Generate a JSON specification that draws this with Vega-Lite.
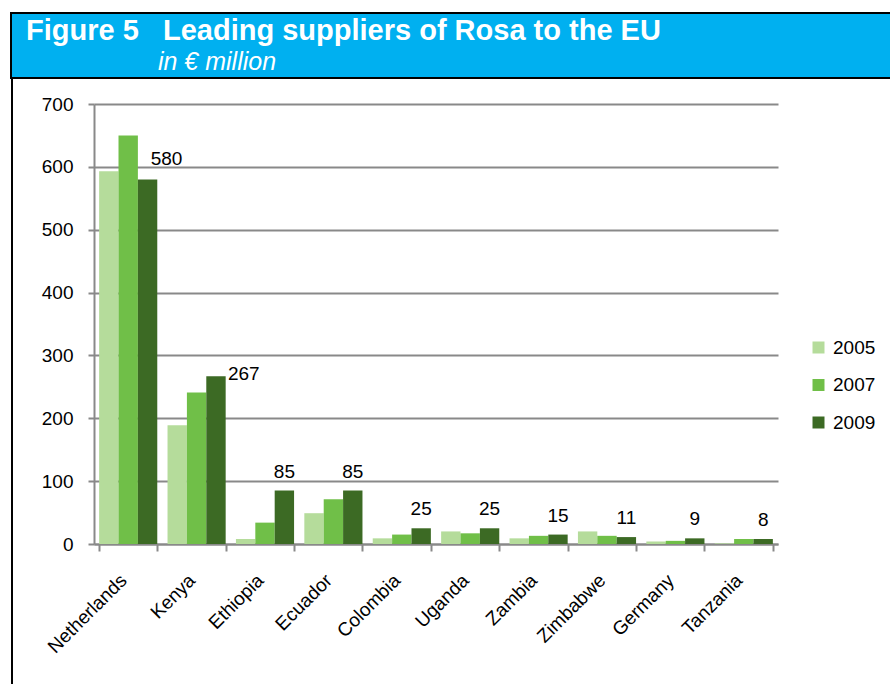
{
  "$schema": "https://vega.github.io/schema/vega-lite/v6.json",
  "padding": {"left": 10, "top": 12, "right": 0, "bottom": 0},
  "background": "white",
  "config": {"font": "Liberation Sans", "view": {"stroke": null}},
  "datasets": {
    "rosa": [
      {"Country": "Netherlands", "Year": "2005", "Value": 593},
      {"Country": "Netherlands", "Year": "2007", "Value": 650},
      {"Country": "Netherlands", "Year": "2009", "Value": 580},
      {"Country": "Kenya", "Year": "2005", "Value": 189},
      {"Country": "Kenya", "Year": "2007", "Value": 241},
      {"Country": "Kenya", "Year": "2009", "Value": 267},
      {"Country": "Ethiopia", "Year": "2005", "Value": 8},
      {"Country": "Ethiopia", "Year": "2007", "Value": 34},
      {"Country": "Ethiopia", "Year": "2009", "Value": 85},
      {"Country": "Ecuador", "Year": "2005", "Value": 49},
      {"Country": "Ecuador", "Year": "2007", "Value": 71},
      {"Country": "Ecuador", "Year": "2009", "Value": 85},
      {"Country": "Colombia", "Year": "2005", "Value": 9},
      {"Country": "Colombia", "Year": "2007", "Value": 15},
      {"Country": "Colombia", "Year": "2009", "Value": 25},
      {"Country": "Uganda", "Year": "2005", "Value": 20},
      {"Country": "Uganda", "Year": "2007", "Value": 17},
      {"Country": "Uganda", "Year": "2009", "Value": 25},
      {"Country": "Zambia", "Year": "2005", "Value": 9},
      {"Country": "Zambia", "Year": "2007", "Value": 13},
      {"Country": "Zambia", "Year": "2009", "Value": 15},
      {"Country": "Zimbabwe", "Year": "2005", "Value": 20},
      {"Country": "Zimbabwe", "Year": "2007", "Value": 13},
      {"Country": "Zimbabwe", "Year": "2009", "Value": 11},
      {"Country": "Germany", "Year": "2005", "Value": 4},
      {"Country": "Germany", "Year": "2007", "Value": 5},
      {"Country": "Germany", "Year": "2009", "Value": 9},
      {"Country": "Tanzania", "Year": "2005", "Value": 1},
      {"Country": "Tanzania", "Year": "2007", "Value": 8},
      {"Country": "Tanzania", "Year": "2009", "Value": 8}
    ]
  },
  "spacing": 0,
  "vconcat": [
    {
      "width": 890,
      "height": 65,
      "data": {"values": []},
      "mark": "point",
      "view": {"fill": "#00B0F0", "stroke": "black", "strokeWidth": 2},
      "title": {
        "text": "Figure 5\u00a0\u00a0\u00a0Leading suppliers of Rosa to the EU",
        "subtitle": "\u200b\u00a0\u00a0\u00a0\u00a0\u00a0\u00a0\u00a0\u00a0\u00a0\u00a0\u00a0\u00a0\u00a0\u00a0\u00a0\u00a0\u00a0\u00a0\u00a0in € million",
        "anchor": "start",
        "frame": "group",
        "orient": "top",
        "offset": -62,
        "dx": 15,
        "color": "white",
        "subtitleColor": "white",
        "font": "Liberation Sans",
        "fontSize": 29,
        "fontWeight": "bold",
        "subtitleFont": "Liberation Sans",
        "subtitleFontSize": 25,
        "subtitleFontStyle": "italic",
        "subtitleFontWeight": "normal",
        "subtitlePadding": 4
      }
    },
    {
      "spacing": 0,
      "hconcat": [
        {
          "width": 2,
          "height": 620,
          "data": {"values": []},
          "mark": "point",
          "view": {"fill": "black", "stroke": null}
        },
        {
          "spacing": 15,
          "vconcat": [
            {
              "width": 684,
              "height": 1,
              "data": {"values": []},
              "mark": "point",
              "view": {"stroke": null}
            },
            {
              "width": 684,
              "height": 440,
              "data": {"name": "rosa"},
              "encoding": {
                "x": {
                  "field": "Country",
                  "type": "nominal",
                  "sort": ["Netherlands", "Kenya", "Ethiopia", "Ecuador", "Colombia", "Uganda", "Zambia", "Zimbabwe", "Germany", "Tanzania"],
                  "scale": {"paddingInner": 0.15, "paddingOuter": 0.075},
                  "axis": {
                    "title": null,
                    "labelAngle": -45,
                    "labelAlign": "right",
                    "labelBaseline": "middle",
                    "labelFontSize": 19,
                    "labelColor": "black",
                    "labelPadding": 26,
                    "labelOffset": -5,
                    "domainColor": "#898989",
                    "domainWidth": 2,
                    "tickColor": "#898989",
                    "tickWidth": 2,
                    "tickSize": 7,
                    "tickBand": "extent"
                  }
                },
                "xOffset": {"field": "Year", "type": "nominal", "scale": {"paddingInner": 0, "paddingOuter": 0}},
                "y": {
                  "field": "Value",
                  "type": "quantitative",
                  "scale": {"domain": [0, 700], "nice": false},
                  "axis": {
                    "title": null,
                    "values": [0, 100, 200, 300, 400, 500, 600, 700],
                    "labelFontSize": 19,
                    "labelColor": "black",
                    "labelPadding": 15,
                    "domainColor": "#898989",
                    "domainWidth": 2,
                    "tickColor": "#898989",
                    "tickWidth": 2,
                    "tickSize": 6,
                    "gridColor": "#898989",
                    "gridWidth": 2,
                    "minExtent": 81,
                    "maxExtent": 81
                  }
                }
              },
              "layer": [
                {
                  "mark": {"type": "bar"},
                  "encoding": {
                    "color": {
                      "field": "Year",
                      "type": "nominal",
                      "scale": {"domain": ["2005", "2007", "2009"], "range": ["#B5DC9B", "#70BF48", "#3C6A24"]},
                      "legend": {
                        "title": null,
                        "orient": "none",
                        "legendX": 798,
                        "legendY": 325,
                        "symbolType": "square",
                        "symbolSize": 144,
                        "symbolStrokeWidth": 0,
                        "labelFontSize": 19,
                        "labelColor": "black",
                        "rowPadding": 17.5,
                        "labelOffset": 5,
                        "padding": 0
                      }
                    }
                  }
                },
                {
                  "transform": [{"filter": "datum.Year == '2009' && datum.Country != 'Netherlands' && datum.Country != 'Kenya'"}],
                  "mark": {"type": "text", "baseline": "alphabetic", "dy": -13, "fontSize": 19, "color": "black"},
                  "encoding": {"text": {"field": "Value", "type": "quantitative"}}
                },
                {
                  "transform": [{"filter": "datum.Year == '2009' && datum.Country == 'Netherlands'"}],
                  "mark": {"type": "text", "baseline": "alphabetic", "dx": 19, "dy": -14, "fontSize": 19, "color": "black"},
                  "encoding": {"text": {"field": "Value", "type": "quantitative"}}
                },
                {
                  "transform": [{"filter": "datum.Year == '2009' && datum.Country == 'Kenya'"}],
                  "mark": {"type": "text", "baseline": "alphabetic", "align": "left", "dx": 12, "dy": 4, "fontSize": 19, "color": "black"},
                  "encoding": {"text": {"field": "Value", "type": "quantitative"}}
                }
              ]
            }
          ]
        }
      ]
    }
  ]
}
